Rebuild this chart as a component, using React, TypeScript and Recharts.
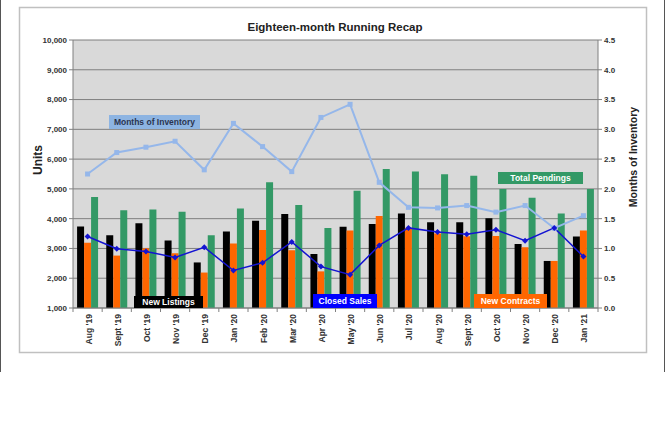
import React from 'react';
import {
    ComposedChart,
    Bar,
    Line,
    XAxis,
    YAxis,
    CartesianGrid,
} from 'recharts';

// ---- chart data ----
const months = [
    "Aug '19", "Sept '19", "Oct '19", "Nov '19", "Dec '19", "Jan '20",
    "Feb '20", "Mar '20", "Apr '20", "May '20", "Jun '20", "Jul '20",
    "Aug '20", "Sept '20", "Oct '20", "Nov '20", "Dec '20", "Jan '21",
];
const newListings = [3740, 3440, 3850, 3270, 2530, 3570, 3930, 4160, 2810, 3730, 3820, 4170, 3880, 3880, 4010, 3150, 2580, 3400];
const newContracts = [3190, 2760, 3010, 2840, 2190, 3170, 3620, 2940, 2230, 3600, 4090, 3690, 3500, 3410, 3420, 3040, 2580, 3600];
const totalPendings = [4730, 4280, 4310, 4230, 3440, 4340, 5220, 4460, 3690, 4940, 5670, 5580, 5490, 5440, 5000, 4700, 4170, 5000];
const closedSales = [3400, 2990, 2900, 2700, 3040, 2260, 2520, 3220, 2390, 2120, 3100, 3690, 3550, 3480, 3630, 3260, 3690, 2730];
const monthsOfInventory = [2.25, 2.61, 2.70, 2.80, 2.32, 3.10, 2.71, 2.29, 3.20, 3.42, 2.11, 1.69, 1.68, 1.72, 1.61, 1.72, 1.34, 1.55];

const unitTicks = [1000, 2000, 3000, 4000, 5000, 6000, 7000, 8000, 9000, 10000];
const inventoryTicks = [0, 0.5, 1, 1.5, 2, 2.5, 3, 3.5, 4, 4.5];

const data = months.map((m, i) => ({
    month: m,
    listings: newListings[i],
    contracts: newContracts[i],
    pendings: totalPendings[i],
    closed: closedSales[i],
    inventory: monthsOfInventory[i],
}));

const FONT = '"Liberation Sans", Arial, sans-serif';
const tickStyle = { fontFamily: FONT, fontSize: 8, fontWeight: 700, fill: '#333' };
const HALF_BAND = 525 / 18 / 2;

function MonthTick(props: any) {
    const { x, y, payload, index } = props;
    const tx = x + 4;
    const ty = y + 6;
    return (
        <g>
            <line x1={x - HALF_BAND} x2={x - HALF_BAND} y1={y} y2={y + 4} stroke="#808080" />
            {index === months.length - 1 && (
                <line x1={x + HALF_BAND} x2={x + HALF_BAND} y1={y} y2={y + 4} stroke="#808080" />
            )}
            <text
                x={tx}
                y={ty}
                transform={`rotate(-90 ${tx} ${ty})`}
                textAnchor="end"
                style={{ ...tickStyle, fontSize: 8.5 }}
            >
                {payload.value}
            </text>
        </g>
    );
}

const SquareDot = (props: any) => {
    const { cx, cy, index } = props;
    if (cx == null || cy == null) return null;
    return <rect key={index} x={cx - 2.5} y={cy - 2.5} width={5} height={5} fill="#95b7ea" />;
};

const DiamondDot = (props: any) => {
    const { cx, cy, index } = props;
    if (cx == null || cy == null) return null;
    const r = 3;
    return (
        <polygon
            key={index}
            points={`${cx},${cy - r} ${cx + r},${cy} ${cx},${cy + r} ${cx - r},${cy}`}
            fill="#1414d2"
        />
    );
};

// in-plot series tags
function Tag({ x, y, w, h, bg, color, text }: any) {
    return (
        <g>
            <rect x={x} y={y} width={w} height={h} fill={bg} />
            <text
                x={x + w / 2}
                y={y + h / 2 + 3}
                textAnchor="middle"
                style={{ fontFamily: FONT, fontSize: 8.5, fontWeight: 700, fill: color }}
            >
                {text}
            </text>
        </g>
    );
}

export default function App() {
    return (
        <div style={{ position: 'absolute', left: 0, top: 0, width: 665, height: 448, background: '#fff' }}>
            {/* frame */}
            <svg width={665} height={448} style={{ position: 'absolute', left: 0, top: 0 }}>
                <line x1={0.5} x2={0.5} y1={0} y2={372} stroke="#555" />
                <line x1={664.5} x2={664.5} y1={0} y2={372} stroke="#555" />
                <rect x={19.5} y={7.5} width={627} height={345} fill="#fff" stroke="#c0c0c0" strokeWidth={1.5} />
            </svg>

            <div style={{ position: 'absolute', left: 0, top: 0 }}>
                <ComposedChart
                    width={665}
                    height={448}
                    data={data}
                    margin={{ top: 40, right: 20, bottom: 0, left: 20 }}
                    barCategoryGap="14%"
                    barGap={0}
                >
                    <CartesianGrid yAxisId="left" vertical={false} stroke="#7f7f7f" fill="#d9d9d9" fillOpacity={1} />
                    <XAxis
                        dataKey="month"
                        height={140}
                        interval={0}
                        tickSize={0}
                        tickMargin={0}
                        axisLine={{ stroke: '#808080' }}
                        tickLine={false}
                        tick={<MonthTick />}
                    />
                    <YAxis
                        yAxisId="left"
                        width={53}
                        domain={[1000, 10000]}
                        ticks={unitTicks}
                        tickSize={4}
                        tickMargin={2}
                        axisLine={{ stroke: '#808080' }}
                        tickLine={{ stroke: '#808080' }}
                        tick={tickStyle}
                        tickFormatter={(v) => v.toLocaleString('en-US')}
                        allowDataOverflow
                    />
                    <YAxis
                        yAxisId="right"
                        orientation="right"
                        width={47}
                        domain={[0, 4.5]}
                        ticks={inventoryTicks}
                        tickSize={4}
                        tickMargin={2}
                        axisLine={{ stroke: '#808080' }}
                        tickLine={{ stroke: '#808080' }}
                        tick={tickStyle}
                        tickFormatter={(v) => v.toFixed(1)}
                    />
                    <Bar yAxisId="left" dataKey="listings" fill="#000000" isAnimationActive={false} />
                    <Bar yAxisId="left" dataKey="contracts" fill="#ff6600" isAnimationActive={false} />
                    <Bar yAxisId="left" dataKey="pendings" fill="#339966" isAnimationActive={false} />
                    <Line
                        yAxisId="right"
                        dataKey="inventory"
                        stroke="#95b7ea"
                        strokeWidth={2}
                        dot={<SquareDot />}
                        activeDot={false}
                        isAnimationActive={false}
                    />
                    <Line
                        yAxisId="left"
                        dataKey="closed"
                        stroke="#1414d2"
                        strokeWidth={1.5}
                        dot={<DiamondDot />}
                        activeDot={false}
                        isAnimationActive={false}
                    />
                </ComposedChart>
            </div>

            {/* titles and series tags */}
            <svg width={665} height={448} style={{ position: 'absolute', left: 0, top: 0, pointerEvents: 'none' }}>
                <text x={335} y={31} textAnchor="middle" style={{ fontFamily: FONT, fontSize: 11.5, fontWeight: 700, fill: '#222' }}>
                    Eighteen-month Running Recap
                </text>
                <text
                    x={42}
                    y={160}
                    transform="rotate(-90 42 160)"
                    textAnchor="middle"
                    style={{ fontFamily: FONT, fontSize: 12, fontWeight: 700, fill: '#222' }}
                >
                    Units
                </text>
                <text
                    x={637}
                    y={157}
                    transform="rotate(-90 637 157)"
                    textAnchor="middle"
                    style={{ fontFamily: FONT, fontSize: 10.5, fontWeight: 700, fill: '#222' }}
                >
                    Months of Inventory
                </text>
                <Tag x={109} y={115} w={91} h={14} bg="#8db4e2" color="#2b3550" text="Months of Inventory" />
                <Tag x={498} y={172} w={85} h={12} bg="#339966" color="#fff" text="Total Pendings" />
                <Tag x={134} y={296} w={69} h={12} bg="#000" color="#fff" text="New Listings" />
                <Tag x={313} y={294} w={64} h={14} bg="#0000ff" color="#fff" text="Closed Sales" />
                <Tag x={474} y={294} w={73} h={14} bg="#ff6600" color="#fff" text="New Contracts" />
            </svg>
        </div>
    );
}
